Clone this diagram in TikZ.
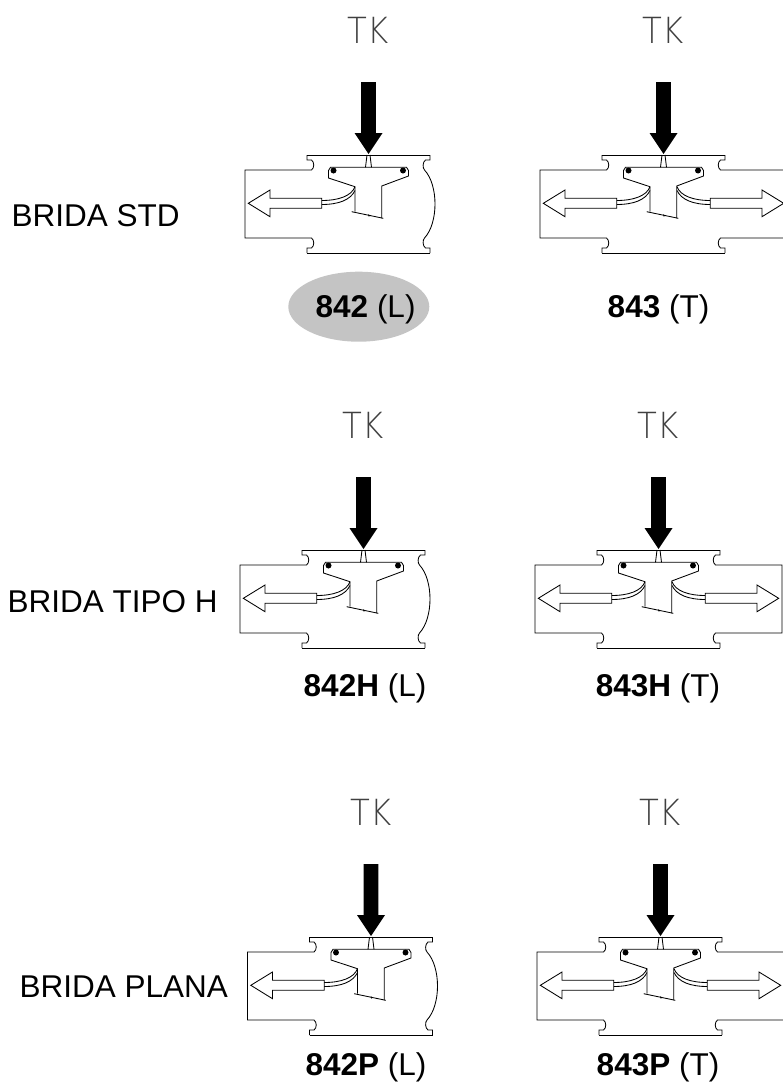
\documentclass[tikz,border=0pt]{standalone}
\usepackage{fontspec}
\usepackage{tikz}
\setmainfont{Liberation Sans}
\IfFontExistsTF{DejaVu Sans ExtraLight}
  {\newfontfamily\tkfont{DejaVu Sans ExtraLight}[FakeStretch=0.9]}
  {\newfontfamily\tkfont{Liberation Sans}}
\definecolor{badgegray}{gray}{0.77}
\tikzset{line/.style = {line width = 0.85pt}}
\tikzset{outlet/.style = {line, fill = white}}
\tikzset{tk/.style = {text = black!75, font = \tkfont\fontsize{36}{40}\selectfont, inner sep = 0}}
\tikzset{brida/.style = {font = \fontsize{31.5}{36}\selectfont, anchor = base west, inner sep = 0}}
\tikzset{model/.style = {font = \fontsize{31.5}{36}\selectfont, anchor = base, inner sep = 0}}
% left flange with its pipe
\tikzset{lside/.pic = {
    \draw [line] (-61.5, 0) -- (-61.5, 5) -- (-57, 5) .. controls (-54, 7) and (-54, 13) .. (-57, 15)
      -- (-123.5, 15) -- (-123.5, 83) -- (-57, 83) .. controls (-54, 85) and (-54, 91) .. (-57, 93)
      -- (-61.5, 93) -- (-61.5, 98);
  }}
% closed right side of the L body
\tikzset{rbulge/.pic = {
    \draw [line] (61.5, 0) -- (61.5, 5) -- (57, 5) .. controls (54, 7) and (54, 13) .. (56, 15)
      .. controls (70, 30) and (70, 68) .. (56, 83) .. controls (54, 85) and (54, 91) .. (57, 93)
      -- (61.5, 93) -- (61.5, 98);
  }}
% flange lines, disc, stem and push arrow
\tikzset{trim/.pic = {
    \draw [line] (-61.5, 0) -- (61.5, 0);
    \draw [line] (-61.5, 98) -- (61.5, 98);
    \draw [line] (-1.5, 0) -- (-3, 12.3);
    \draw [line] (1.5, 0) -- (3, 12.3);
    \draw [line] (-13.5, 56.7) -- (-13.5, 31.7) -- (-40, 23) -- (-40, 15.5) -- (-38, 12.3)
      -- (38, 12.3) -- (40, 15.5) -- (40, 21) -- (13.2, 31) -- (13.2, 63.3);
    \draw [line] (-16.8, 56.7) -- (14.8, 63.3);
    \draw [line] (0, 59.5) -- (0.6, 61.4);
    \fill (-35, 15.5) circle [radius = 3pt];
    \fill (34.5, 15.5) circle [radius = 3pt];
    \fill (-7.3, -73) -- (7.3, -73) -- (7.3, -22) -- (14, -22) -- (0, -1) -- (-14, -22) -- (-7.3, -22) -- cycle;
  }}
% tube and outlet arrow, left hand
\tikzset{port/.pic = {
    \draw [line] (-13.5, 31.7) .. controls (-17, 41) and (-30, 45.5) .. (-46.8, 45.5);
    \draw [line] (-13.5, 35.5) .. controls (-18, 45) and (-30, 49.5) .. (-46.8, 49.5);
    \draw [outlet] (-46.8, 43.3) -- (-98.5, 43.3) -- (-98.5, 35) -- (-120.2, 48.3)
      -- (-98.5, 61.7) -- (-98.5, 53.3) -- (-46.8, 53.3) -- cycle;
  }}

\begin{document}
\begin{tikzpicture}[x = 1pt, y = -1pt]
    \useasboundingbox (0, 0) rectangle (783, 1087);

    % brida std
    \node [brida] (std) at (11.5, 226) {BRIDA STD};
    \node [tk] (tkstdl) at (368.5, 30) {TK};
    \node [tk] (tkstdt) at (663.5, 30) {TK};
    \pic at (368.5, 155) {lside};
    \pic at (368.5, 155) {rbulge};
    \pic at (368.5, 155) {trim};
    \pic at (368.5, 155) {port};
    \pic at (663.5, 155) {lside};
    \pic [xscale = -1] at (663.5, 155) {lside};
    \pic at (663.5, 155) {trim};
    \pic at (663.5, 155) {port};
    \pic [xscale = -1] at (663.5, 155) {port};
    \fill [badgegray] (358.8, 306.7) ellipse [x radius = 70.5pt, y radius = 35pt];
    \node [model] (m842) at (365.6, 317) {\textbf{842} (L)};
    \node [model] (m843) at (658.5, 317) {\textbf{843} (T)};

    % brida tipo h
    \node [brida] (tipoh) at (7.5, 612) {BRIDA TIPO H};
    \node [tk] (tkhl) at (363.5, 425) {TK};
    \node [tk] (tkht) at (658.5, 425) {TK};
    \pic at (363.5, 550) {lside};
    \pic at (363.5, 550) {rbulge};
    \pic at (363.5, 550) {trim};
    \pic at (363.5, 550) {port};
    \pic at (658.5, 550) {lside};
    \pic [xscale = -1] at (658.5, 550) {lside};
    \pic at (658.5, 550) {trim};
    \pic at (658.5, 550) {port};
    \pic [xscale = -1] at (658.5, 550) {port};
    \node [model] (m842h) at (365, 696) {\textbf{842H} (L)};
    \node [model] (m843h) at (658, 696) {\textbf{843H} (T)};

    % brida plana
    \node [brida] (plana) at (19.5, 997) {BRIDA PLANA};
    \node [tk] (tkpl) at (371, 812) {TK};
    \node [tk] (tkpt) at (660.5, 812) {TK};
    \pic at (371, 937) {lside};
    \pic at (371, 937) {rbulge};
    \pic at (371, 937) {trim};
    \pic at (371, 937) {port};
    \pic at (660.5, 937) {lside};
    \pic [xscale = -1] at (660.5, 937) {lside};
    \pic at (660.5, 937) {trim};
    \pic at (660.5, 937) {port};
    \pic [xscale = -1] at (660.5, 937) {port};
    \node [model] (m842p) at (366, 1075) {\textbf{842P} (L)};
    \node [model] (m843p) at (658, 1075) {\textbf{843P} (T)};
  \end{tikzpicture}
\end{document}
